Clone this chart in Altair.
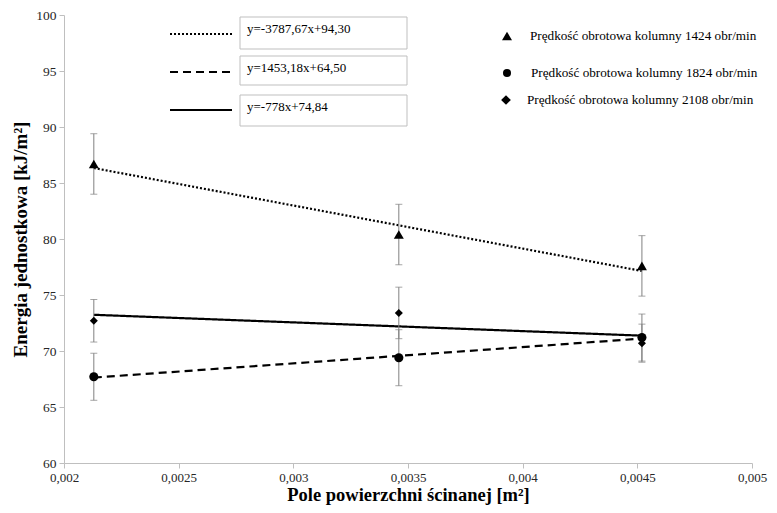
import altair as alt
import pandas as pd

# ---- data ----
x_area = [0.00213, 0.00346, 0.00452]
series_names = [
    "Prędkość obrotowa kolumny 1424 obr/min",
    "Prędkość obrotowa kolumny 1824 obr/min",
    "Prędkość obrotowa kolumny 2108 obr/min",
]
series_shapes = ["triangle-up", "circle", "diamond"]
shape_sizes = [100, 65, 95]
energy_1424 = [86.7, 80.4, 77.6]
err_1424 = [2.7, 2.7, 2.7]
energy_1824 = [67.7, 69.4, 71.2]
err_1824 = [2.1, 2.5, 2.1]
energy_2108 = [72.7, 73.4, 70.7]
err_2108 = [1.9, 2.3, 1.7]
equations = ["y=-3787,67x+94,30", "y=1453,18x+64,50", "y=-778x+74,84"]
x_ticks = [0.002, 0.0025, 0.003, 0.0035, 0.004, 0.0045, 0.005]
y_ticks = [60, 65, 70, 75, 80, 85, 90, 95, 100]

rows = []
for name, vals, errs in zip(series_names,
                            [energy_1424, energy_1824, energy_2108],
                            [err_1424, err_1824, err_2108]):
    for x, v, e in zip(x_area, vals, errs):
        rows.append({"series": name, "x": x, "y": v, "lo": v - e, "hi": v + e})
df = pd.DataFrame(rows)

FONT = "Liberation Serif"
xs = alt.Scale(domain=[0.002, 0.005], nice=False, zero=False)
ys = alt.Scale(domain=[60, 100], nice=False, zero=False)

x_enc = alt.X("x:Q", scale=xs, title="Pole powierzchni  ścinanej [m²]",
              axis=alt.Axis(values=x_ticks, labelFlush=False, labelFontSize=13,
                            titleFontSize=18.5,
                            labelExpr="replace(format(datum.value, '.2~r'), '.', ',')"))
y_enc = alt.Y("y:Q", scale=ys, title="Energia jednostkowa  [kJ/m²]",
              axis=alt.Axis(values=y_ticks, labelFlush=False, labelFontSize=13.5,
                            titleFontSize=19))

base = alt.Chart(df)

trend = base.transform_calculate(trend_series="datum.series").transform_regression(
    "x", "y", groupby=["trend_series"]
).mark_line(color="black", strokeWidth=2.2).encode(
    x=x_enc, y=y_enc,
    strokeDash=alt.StrokeDash("trend_series:N",
                              scale=alt.Scale(domain=series_names,
                                              range=[[2, 2], [8, 5], [1, 0]]),
                              legend=None),
    detail="trend_series:N",
)

err_rule = base.mark_rule(color="#808080", strokeWidth=1).encode(
    x="x:Q", y="lo:Q", y2="hi:Q")
err_cap_lo = base.mark_tick(color="#808080", orient="horizontal", size=7, thickness=1).encode(
    x="x:Q", y="lo:Q")
err_cap_hi = base.mark_tick(color="#808080", orient="horizontal", size=7, thickness=1).encode(
    x="x:Q", y="hi:Q")

points = base.mark_point(filled=True, color="black", opacity=1).encode(
    x="x:Q", y="y:Q",
    shape=alt.Shape("series:N",
                    scale=alt.Scale(domain=series_names, range=series_shapes),
                    legend=None),
    size=alt.Size("series:N",
                  scale=alt.Scale(domain=series_names, range=shape_sizes),
                  legend=None),
)

# ---- equation boxes (top-left) ----
dashes = [[2, 2], [8, 5], [1, 0]]
box_y = [(2, 34), (41, 70), (80, 111)]
text_y = [14, 53, 92]
line_y = [19, 57, 95]
deco = []
for i, eq in enumerate(equations):
    one = alt.Chart(pd.DataFrame({"t": [eq]}))
    deco.append(one.mark_rect(fill="white", stroke="#bfbfbf", strokeWidth=1).encode(
        x=alt.value(176), x2=alt.value(343),
        y=alt.value(box_y[i][0]), y2=alt.value(box_y[i][1])))
    deco.append(one.mark_rule(color="black", strokeWidth=2.2, strokeDash=dashes[i]).encode(
        x=alt.value(106), x2=alt.value(168), y=alt.value(line_y[i])))
    deco.append(one.mark_text(align="left", baseline="middle", font=FONT,
                              fontSize=13, color="black").encode(
        x=alt.value(183), y=alt.value(text_y[i]), text="t:N"))

# ---- series legend (top-right) ----
leg_sym_x = [443, 443, 442]
leg_txt_x = [466, 467, 463]
leg_y = [21, 58, 85]
for i, name in enumerate(series_names):
    one = alt.Chart(pd.DataFrame({"t": [name]}))
    deco.append(one.mark_point(filled=True, color="black", size=shape_sizes[i], opacity=1,
                               shape=series_shapes[i]).encode(
        x=alt.value(leg_sym_x[i]), y=alt.value(leg_y[i])))
    deco.append(one.mark_text(align="left", baseline="middle", font=FONT,
                              fontSize=13.2, color="black").encode(
        x=alt.value(leg_txt_x[i]), y=alt.value(leg_y[i]), text="t:N"))

chart = alt.layer(trend, err_rule, err_cap_lo, err_cap_hi, points, *deco).properties(
    width=688, height=448,
    padding={"left": 56, "top": 7, "right": 17, "bottom": 48},
    autosize="none",
).configure_view(stroke=None).configure_axis(
    grid=False, domainColor="#bfbfbf", tickColor="#bfbfbf", tickSize=5,
    labelFont=FONT, labelColor="#262626",
    titleFont=FONT, titleFontWeight="bold", titleColor="black",
).configure_axisX(titlePadding=1, labelPadding=3).configure_axisY(titlePadding=5, labelPadding=3)

chart.save("out.html", embed_options={"renderer": "svg", "actions": False})
